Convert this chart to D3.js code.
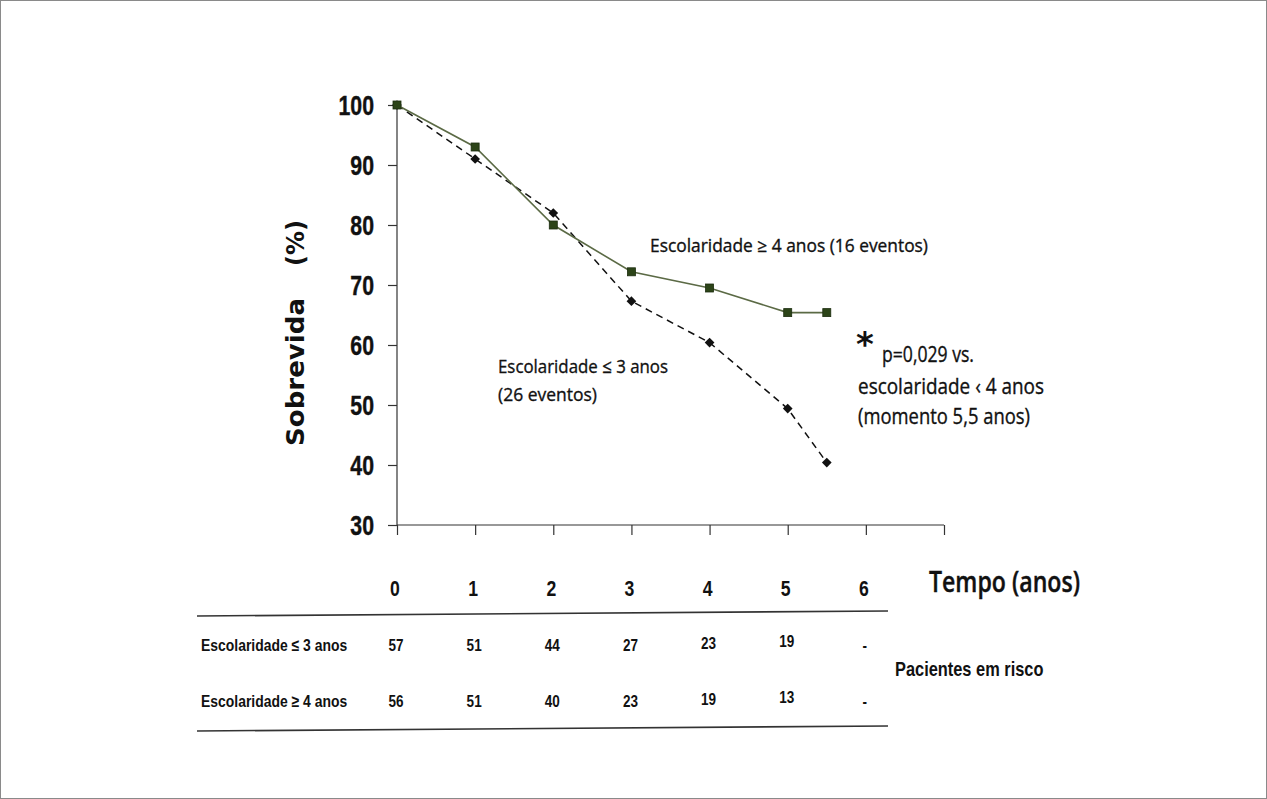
<!DOCTYPE html>
<html><head><meta charset="utf-8">
<script src="https://cdn.jsdelivr.net/npm/d3@7"></script>
<style>html,body{margin:0;padding:0;background:#fff;}svg{display:block;}</style>
</head><body>
<script>
const times = [0, 1, 2, 3, 4, 5, 5.5];
const survHigh = [100, 93, 80, 72.2, 69.5, 65.4, 65.4];
const survLow = [100, 91, 82, 67.3, 60.4, 49.4, 40.4];
const yTicks = [30, 40, 50, 60, 70, 80, 90, 100];
const xTicks = [0, 1, 2, 3, 4, 5, 6, 7];
const xLabels = ["0", "1", "2", "3", "4", "5", "6"];
const rowLabels = ["Escolaridade ≤ 3 anos", "Escolaridade ≥ 4 anos"];
const riskLow = ["57", "51", "44", "27", "23", "19", "-"];
const riskHigh = ["56", "51", "40", "23", "19", "13", "-"];

const W = 1267, H = 799;
const svg = d3.select("body").append("svg").attr("width", W).attr("height", H);
svg.append("rect").attr("x", 0.5).attr("y", 0.5).attr("width", W - 1).attr("height", H - 1)
  .attr("fill", "#fff").attr("stroke", "#8a8a8a").attr("stroke-width", 1);

const x = d3.scaleLinear().domain([0, 7]).range([397, 944]);
const y = d3.scaleLinear().domain([30, 100]).range([525, 105]);

const sans = "'Liberation Sans', Arial, sans-serif";
const comic = "'Open Sans', 'DejaVu Sans', sans-serif";

function narrow(parent, txt, px, py, fs, anchor, ns) {
  return parent.append("text")
    .attr("transform", `translate(${px},${py}) scale(${ns || 0.82},1)`)
    .attr("text-anchor", anchor || "start")
    .attr("font-family", sans).attr("font-weight", "bold")
    .attr("font-size", fs).attr("fill", "#111").text(txt);
}

// Y axis
const yAxis = svg.append("g").attr("transform", `translate(${x(0)},0)`)
  .call(d3.axisLeft(y).tickValues(yTicks).tickSize(9).tickFormat(""));
yAxis.select(".domain").attr("stroke", "#333").attr("stroke-width", 1.2).attr("d", `M0,${y(100)}V${y(30)}`);
yAxis.selectAll(".tick line").attr("stroke", "#333").attr("stroke-width", 1.2);
const yLab = svg.append("g");
yTicks.forEach(v => narrow(yLab, d3.format("d")(v), x(0) - 23, y(v) + 10, 28, "end", 0.76)
  .attr("stroke", "#111").attr("stroke-width", 0.4));

// X axis
const xAxis = svg.append("g").attr("transform", `translate(0,${y(30)})`)
  .call(d3.axisBottom(x).tickValues(xTicks).tickSize(10).tickFormat(""));
xAxis.select(".domain").attr("stroke", "#333").attr("stroke-width", 1.2).attr("d", `M${x(0)},0H${x(7)}`);
xAxis.selectAll(".tick line").attr("stroke", "#333").attr("stroke-width", 1.2);
const xLab = svg.append("g");
xLabels.forEach((d, i) => narrow(xLab, d, x(i) - 2, 596, 22, "middle", 0.8));

// Y title
svg.append("text").attr("transform", "translate(304,446) rotate(-90)")
  .attr("font-family", "'DejaVu Sans', Verdana, sans-serif").attr("font-weight", "bold")
  .attr("font-size", 24).attr("fill", "#111").attr("textLength", 148).attr("lengthAdjust", "spacingAndGlyphs")
  .text("Sobrevida");
svg.append("text").attr("transform", "translate(304,220) rotate(-90)").attr("text-anchor", "end")
  .attr("font-family", "'DejaVu Sans', Verdana, sans-serif").attr("font-weight", "bold")
  .attr("font-size", 24).attr("fill", "#111")
  .text("(%)");

// X title
svg.append("text").attr("x", 929).attr("y", 592)
  .attr("font-family", comic).attr("font-weight", 600).attr("font-size", 29).attr("fill", "#111")
  .attr("stroke", "#111").attr("stroke-width", 0.4)
  .attr("textLength", 151).attr("lengthAdjust", "spacingAndGlyphs")
  .text("Tempo (anos)");

// Lines
const line = d3.line().x((d, i) => x(times[i])).y(d => y(d));
svg.append("path").datum(survLow).attr("d", line).attr("fill", "none")
  .attr("stroke", "#111").attr("stroke-width", 1.5).attr("stroke-dasharray", "7,5");
svg.append("path").datum(survHigh).attr("d", line).attr("fill", "none")
  .attr("stroke", "#5b6a45").attr("stroke-width", 1.6);

svg.append("g").selectAll("path").data(survLow).join("path")
  .attr("d", d3.symbol().type(d3.symbolDiamond2).size(60))
  .attr("transform", (d, i) => `translate(${x(times[i])},${y(d)})`)
  .attr("fill", "#111");
svg.append("g").selectAll("rect").data(survHigh).join("rect")
  .attr("x", (d, i) => x(times[i]) - 4).attr("y", d => y(d) - 4)
  .attr("width", 8).attr("height", 8)
  .attr("fill", "#2c4418").attr("stroke", "#1d2e10").attr("stroke-width", 0.8);

// Annotations
function ann(txt, xx, yy, fs, len) {
  const t = svg.append("text").attr("x", xx).attr("y", yy)
    .attr("font-family", comic).attr("font-size", fs).attr("fill", "#111")
    .attr("stroke", "#111").attr("stroke-width", 0.35).text(txt);
  if (len) t.attr("textLength", len).attr("lengthAdjust", "spacingAndGlyphs");
  return t;
}
ann("Escolaridade ≥ 4 anos (16 eventos)", 650, 252, 18, 278);
ann("Escolaridade ≤ 3 anos", 498, 373, 19, 170);
ann("(26 eventos)", 498, 401, 19, 99);
svg.append("text").attr("x", 856).attr("y", 356).attr("font-family", "'DejaVu Sans', sans-serif")
  .attr("font-weight", "bold").attr("font-size", 34).attr("fill", "#111").text("*");
ann("p=0,029 vs.", 882, 362, 21, 92);
ann("escolaridade ‹ 4 anos", 858, 394, 21, 186);
ann("(momento 5,5 anos)", 858, 424, 21, 172);

// Risk table
svg.append("line").attr("x1", 197).attr("y1", 616).attr("x2", 888).attr("y2", 611)
  .attr("stroke", "#333").attr("stroke-width", 1.6);
svg.append("line").attr("x1", 197).attr("y1", 731).attr("x2", 888).attr("y2", 726)
  .attr("stroke", "#333").attr("stroke-width", 1.6);

const rows = [riskLow, riskHigh];
const rowY = [651, 707];
const tbl = svg.append("g");
rows.forEach((r, ri) => {
  narrow(tbl, rowLabels[ri], 201, rowY[ri], 17, "start");
  r.forEach((d, i) => narrow(tbl, d, x(i) - 1, rowY[ri] - (i === 5 ? 4 : 0) - (i === 4 ? 2 : 0), 16.5, "middle"));
});
narrow(svg, "Pacientes em risco", 895, 676, 20, "start");
</script>
</body></html>
